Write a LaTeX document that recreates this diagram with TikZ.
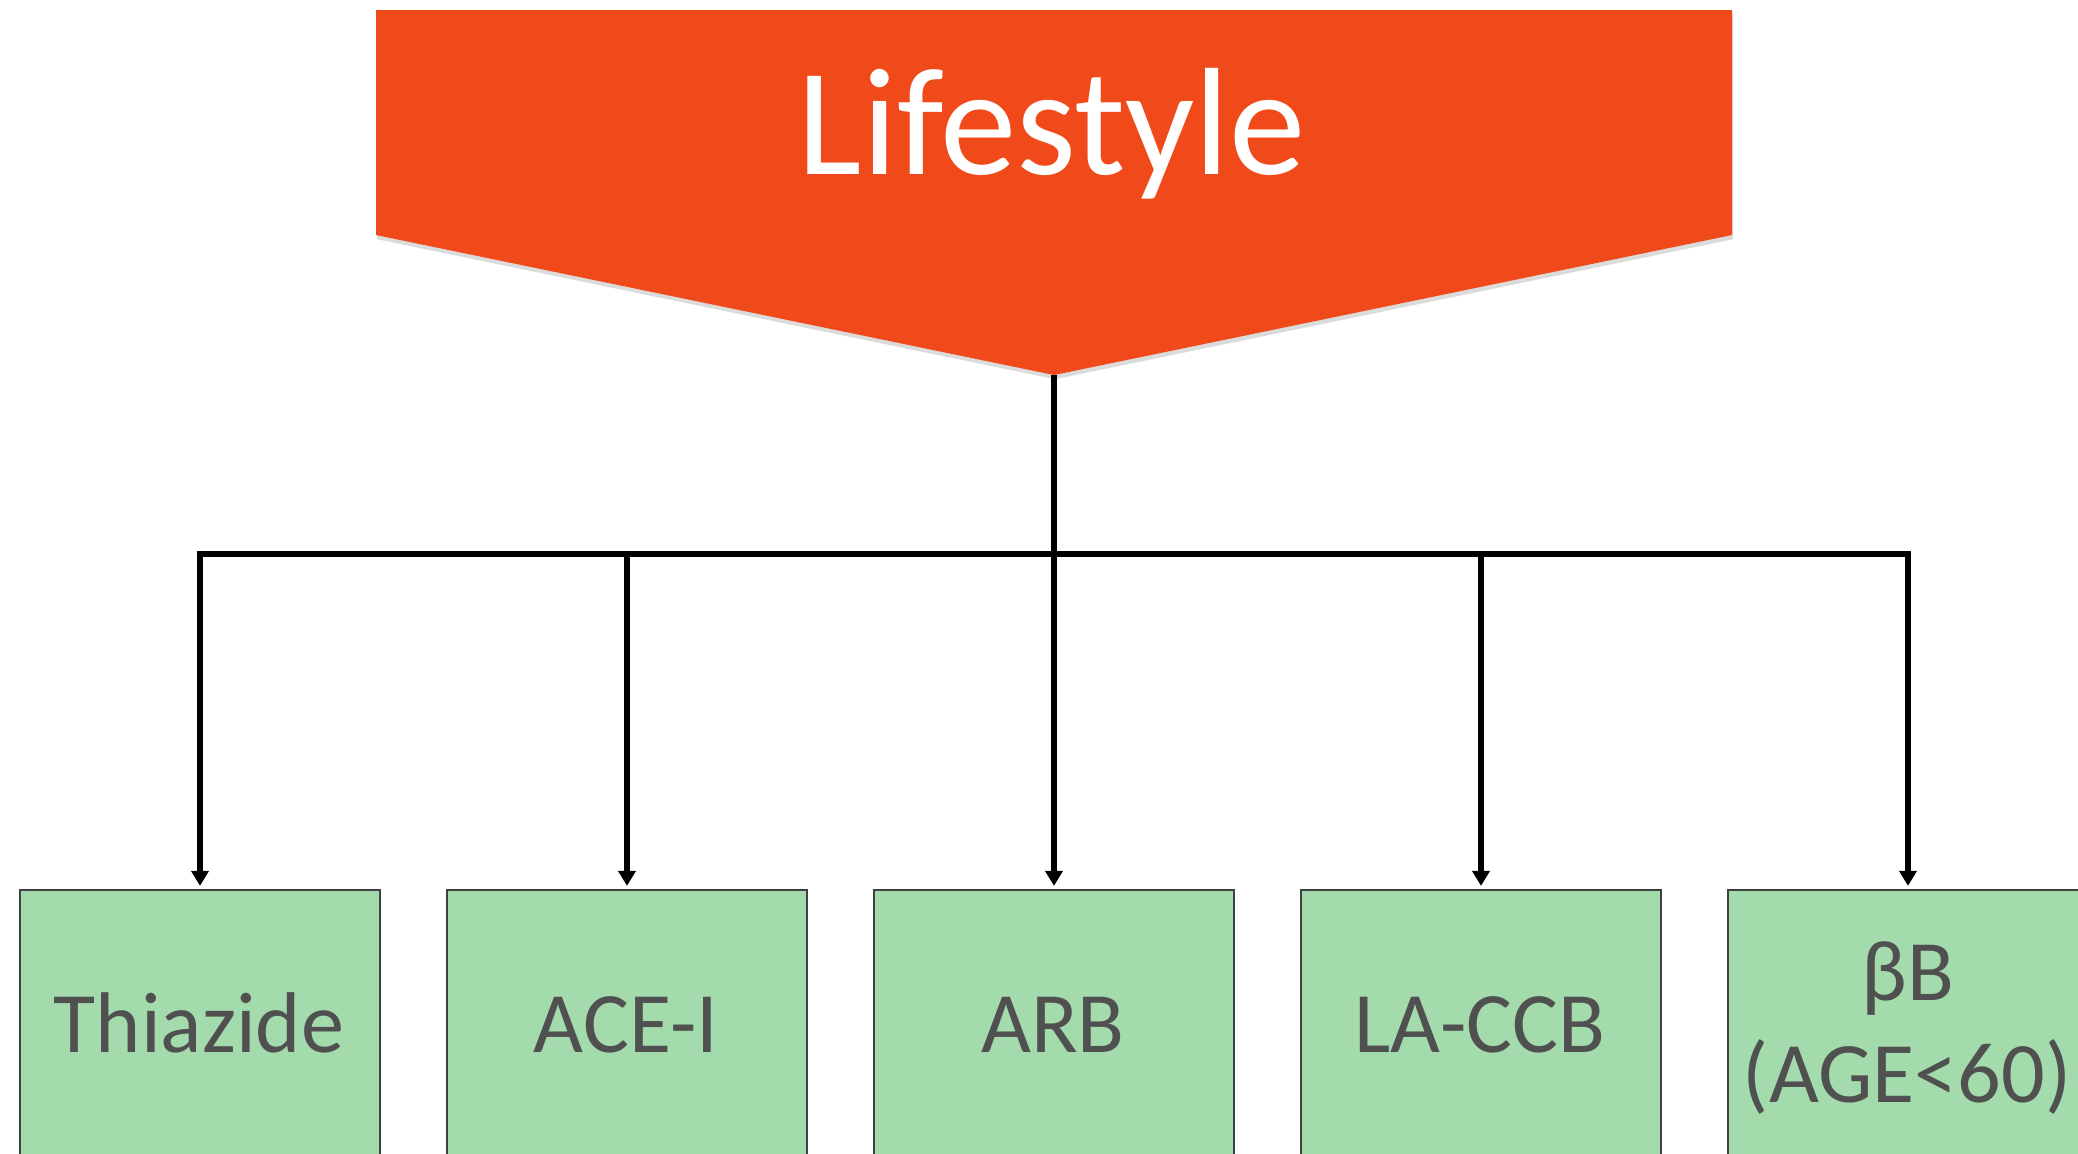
\documentclass[tikz,border=0pt]{standalone}
\usepackage{fontspec}
\setmainfont{Carlito}
\usetikzlibrary{arrows.meta,shadows}
\definecolor{orng}{RGB}{241,74,26}
\definecolor{grn}{RGB}{163,219,173}
\definecolor{txtgray}{RGB}{80,80,80}
\begin{document}
\begin{tikzpicture}[x=0.01cm,y=-0.01cm,
  gbox/.style={draw=black!75,line width=0.5pt,fill=grn,minimum width=3.6cm,minimum height=2.7cm,inner sep=0pt},
  lbl/.style={text=txtgray,font=\fontsize{24.5}{29}\selectfont,anchor=base,inner sep=0pt},
  conn/.style={line width=1.6pt,black},
  arr/.style={conn,-{Triangle[width=0.17cm,length=0.15cm]},shorten >=0.9pt}]
\useasboundingbox (0,0) rectangle (2078,1153);
\clip (0,0) rectangle (2078,1153);
% banner
\fill[orng,drop shadow={shadow xshift=0.3pt,shadow yshift=-1.2pt,opacity=0.2,fill=black!70}]
  (376,10) -- (1732,10) -- (1732,235) -- (1054,375) -- (376,235) -- cycle;
\coordinate (tip) at (1054,375);
\node[text=white,font=\fontsize{43.5}{50}\selectfont,anchor=base,inner sep=0pt] (life) at (1052,174) {Lifestyle};
\coordinate (hub) at (1054,554);
% boxes
\node[gbox] (b1) at (200,1025) {};
\node[gbox] (b2) at (627,1025) {};
\node[gbox] (b3) at (1054,1025) {};
\node[gbox] (b4) at (1481,1025) {};
\node[gbox] (b5) at (1908,1025) {};
% connectors
\draw[conn] (tip) -- (hub);
\draw[arr] (hub) -| (b1.north);
\draw[arr] (hub) -| (b2.north);
\draw[arr] (hub) -- (b3.north);
\draw[arr] (hub) -| (b4.north);
\draw[arr] (hub) -| (b5.north);
% labels
\node[lbl] (t1) at (199,1052) {Thiazide};
\node[lbl] (t2) at (626,1052) {ACE-I};
\node[lbl] (t3) at (1053,1052) {ARB};
\node[lbl] (t4) at (1480,1052) {LA-CCB};
\node[lbl] (t5a) at (1908,1000) {βB};
\node[lbl] (t5b) at (1907,1102) {(AGE<60)};
\end{tikzpicture}
\end{document}
